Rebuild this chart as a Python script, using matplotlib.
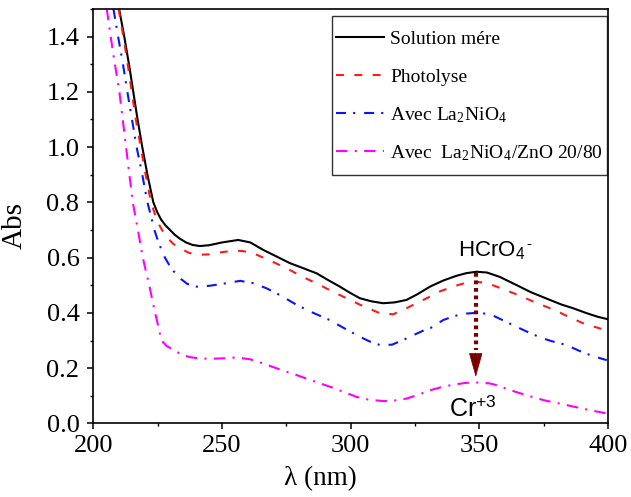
import matplotlib
matplotlib.use('Agg')
import matplotlib.pyplot as plt
from matplotlib.ticker import MultipleLocator

plt.rcParams['font.family'] = ['Liberation Serif', 'DejaVu Serif']
plt.rcParams['mathtext.fontset'] = 'stix'

# --- spectra (wavelength nm, absorbance) ---
wl_mere = [210, 212, 214, 215.5, 217, 219, 221, 223.3, 224.8, 226.3, 228, 229.8, 231.6, 233.7,
           236, 238.5, 241.4, 245, 250, 256.3, 261, 266, 271, 276.4, 281.5, 286.8, 291, 295.8,
           299.5, 303.6, 308, 312.6, 317, 321.7, 326, 330.8, 335.9, 341, 345, 348.9, 353, 358,
           364.4, 370, 377.4, 382, 386.4, 392, 396, 400]
abs_mere = [1.50, 1.40, 1.29, 1.20, 1.11, 1.00, 0.90, 0.80, 0.765, 0.738, 0.717, 0.70, 0.683, 0.668,
            0.655, 0.646, 0.642, 0.645, 0.655, 0.664, 0.655, 0.628, 0.605, 0.58, 0.562, 0.543, 0.52,
            0.495, 0.474, 0.453, 0.442, 0.435, 0.438, 0.447, 0.468, 0.495, 0.517, 0.534, 0.544,
            0.549, 0.546, 0.53, 0.501, 0.475, 0.447, 0.43, 0.417, 0.398, 0.386, 0.377]

wl_photo = [209.8, 212, 213.5, 214.9, 216.5, 218.4, 220.5, 222.4, 224, 225.5, 227, 229, 231, 234,
            237, 240.2, 245, 250, 254.4, 258, 262.1, 268, 275, 281, 288, 293, 298.4, 304, 311.3,
            316.5, 321.7, 326, 330.8, 334.7, 340, 344, 348.9, 353, 357, 361.8, 367, 372, 377.4,
            382, 386, 391, 396.8, 400]
abs_photo = [1.50, 1.38, 1.29, 1.20, 1.10, 1.00, 0.89, 0.80, 0.755, 0.72, 0.695, 0.67, 0.65, 0.632,
             0.618, 0.61, 0.612, 0.62, 0.625, 0.624, 0.616, 0.592, 0.562, 0.532, 0.501, 0.477,
             0.453, 0.428, 0.399, 0.395, 0.417, 0.437, 0.459, 0.478, 0.496, 0.507, 0.513, 0.508,
             0.494, 0.477, 0.457, 0.437, 0.417, 0.398, 0.38, 0.36, 0.344, 0.335]

wl_la2nio4 = [207.8, 209.6, 211.5, 213.2, 215, 216.8, 219, 221, 222.4, 223.7, 225.5, 227.8, 230,
              233, 236.5, 240.2, 245, 250, 257, 262, 267.3, 273, 279, 285, 291.9, 297, 302.3,
              307, 311.3, 316, 320.4, 324, 328, 331, 335.9, 340, 344, 350.2, 355, 359, 364.4, 369,
              374, 378, 383.8, 389, 394, 399.5]
abs_la2nio4 = [1.50, 1.40, 1.30, 1.20, 1.10, 1.00, 0.90, 0.80, 0.75, 0.70, 0.65, 0.60, 0.565,
               0.53, 0.505, 0.495, 0.498, 0.505, 0.516, 0.508, 0.489, 0.462, 0.429, 0.402, 0.374,
               0.347, 0.32, 0.298, 0.284, 0.285, 0.302, 0.318, 0.335, 0.345, 0.374, 0.388, 0.397,
               0.401, 0.392, 0.374, 0.35, 0.33, 0.31, 0.298, 0.284, 0.262, 0.244, 0.229]

wl_composite = [205.2, 207.5, 210.1, 211.4, 212.7, 214, 215.3, 217.3, 219.2, 221.7, 224, 226.5,
                228.5, 231.7, 234, 237.5, 241.4, 246, 251, 255.7, 261, 266, 272, 279, 285,
                291.9, 297, 302.3, 307, 312.6, 317, 321.7, 326, 330.8, 335.9, 341, 345, 349.5,
                354, 357, 361.8, 367, 372, 376, 381.2, 386, 390, 394, 398, 400]
abs_composite = [1.50, 1.35, 1.20, 1.10, 1.00, 0.90, 0.80, 0.70, 0.60, 0.50, 0.40, 0.30,
                 0.28, 0.264, 0.25, 0.24, 0.235, 0.234, 0.236, 0.239, 0.232, 0.217, 0.197, 0.175,
                 0.155, 0.133, 0.115, 0.096, 0.086, 0.081, 0.083, 0.09, 0.103, 0.12, 0.133, 0.142,
                 0.147, 0.148, 0.145, 0.138, 0.121, 0.106, 0.092, 0.082, 0.072, 0.062, 0.054,
                 0.046, 0.039, 0.036]

series_labels = ['Solution mére', 'Photolyse', r'Avec La$_\mathregular{2}$NiO$_\mathregular{4}$',
                 r'Avec  La$_\mathregular{2}$NiO$_\mathregular{4}$/ZnO 20/80']

# arrow HCrO4- -> Cr+3 at the 348 nm band
arrow_x = 348.6
arrow_top = 0.546
arrow_head_base = 0.255
arrow_tip = 0.168

fig = plt.figure(figsize=(6.31, 4.97), dpi=100)
ax = fig.add_axes([0.148, 0.148, 0.8156, 0.834])

ax.plot(wl_mere, abs_mere, color='black', lw=1.5, label=series_labels[0])
ax.plot(wl_photo, abs_photo, color='#ff1a1a', lw=1.5, dashes=(3.8, 5.0), label=series_labels[1])
ax.plot(wl_la2nio4, abs_la2nio4, color='#0a14ff', lw=1.5, dashes=(4.8, 3.4, 1.0, 4.3),
        label=series_labels[2])
ax.plot(wl_composite, abs_composite, color='#ff00ff', lw=1.5, dashes=(5.5, 3.5, 1.0, 3.5),
        label=series_labels[3])

# dotted dark-red arrow
ax.plot([arrow_x, arrow_x], [arrow_top, arrow_head_base + 0.01], color='#7a0000', lw=3.0,
        ls=(0, (0.9, 0.9)), dash_capstyle='butt')
ax.annotate('', xy=(arrow_x, arrow_tip), xytext=(arrow_x, arrow_head_base),
            arrowprops=dict(arrowstyle='-|>,head_width=0.45,head_length=1.6',
                            color='#7a0000', lw=0.5, shrinkA=0, shrinkB=0))

t_hcro4 = ax.text(341.8, 0.606, r'HCrO$_\mathregular{4}$', family='Liberation Sans',
                  fontsize=16, ha='left', va='baseline')
ax.annotate('-', xy=(1.0, 1.0), xycoords=t_hcro4, xytext=(0.5, 1.5), textcoords='offset points',
            family='Liberation Sans', fontsize=11, ha='left', va='top')
ax.text(338.3, 0.024, r'Cr$^\mathregular{+3}$', family='Liberation Sans',
        fontsize=18, ha='left', va='baseline')

ax.set_xlim(200, 400)
ax.set_ylim(0, 1.5)
ax.xaxis.set_major_locator(MultipleLocator(50))
ax.xaxis.set_minor_locator(MultipleLocator(25))
ax.yaxis.set_major_locator(MultipleLocator(0.2))
ax.yaxis.set_minor_locator(MultipleLocator(0.1))
ax.yaxis.set_major_formatter(plt.FuncFormatter(lambda v, p: f'{v:.1f}'))
ax.tick_params(which='major', direction='out', length=4.5, width=1.1, labelsize=19)
ax.tick_params(axis='x', which='major', pad=3.5)
ax.tick_params(axis='y', which='major', pad=5.5)
ax.tick_params(which='minor', direction='out', length=2.5, width=1.0)
for s in ax.spines.values():
    s.set_linewidth(1.2)

ax.set_xlabel('λ (nm)', fontsize=19.5, va='top')
ax.set_ylabel('Abs', fontsize=21)
ax.xaxis.set_label_coords(0.441, -0.103)
ax.yaxis.set_label_coords(-0.127, 0.477)

leg = ax.legend(loc='upper right', bbox_to_anchor=(0.998, 0.983), borderaxespad=0,
                fontsize=14, frameon=True, fancybox=False, edgecolor='black',
                handlelength=2.5, handleheight=2.54, handletextpad=0.3, labelspacing=0.06,
                borderpad=0.2)
leg.get_frame().set_linewidth(1.0)
# drop the legend lines to the middle of the text
for hl in leg.get_lines():
    hl.set_ydata([y - 3.4 for y in hl.get_ydata()])

fig.savefig('out.png', dpi=100)
